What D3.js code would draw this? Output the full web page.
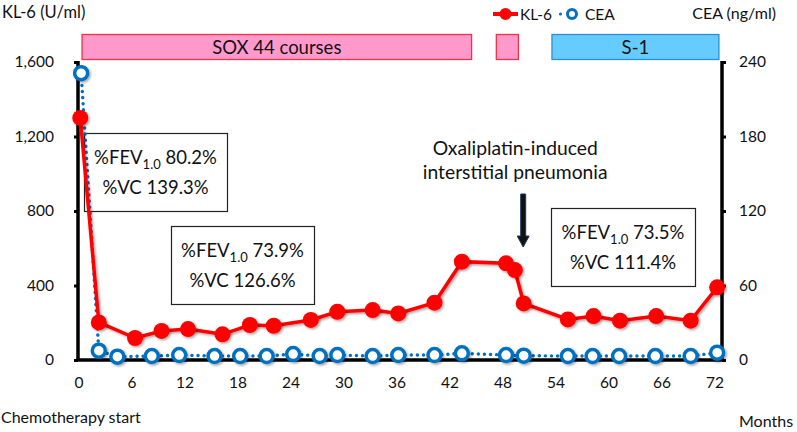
<!DOCTYPE html>
<html>
<head>
<meta charset="utf-8">
<script src="https://cdn.jsdelivr.net/npm/d3@7"></script>
<style>
  html, body { margin: 0; padding: 0; background: #fff; }
  svg { display: block; font-family: Lato, "Open Sans", sans-serif; }
</style>
</head>
<body>
<svg id="chart" width="797" height="432"></svg>
<script>
// ---- Data ----
const kl6Months = [0.2, 2.3, 6.4, 9.4, 12.4, 16.3, 19.4, 22.1, 26.3, 29.3, 33.3, 36.2, 40.3, 43.4, 48.4, 49.4, 50.4, 55.4, 58.3, 61.3, 65.4, 69.3, 72.3];
const kl6Values = [1300, 202, 118, 156, 166, 138, 188, 184, 215, 259, 268, 250, 308, 528, 519, 483, 304, 218, 236, 211, 236, 211, 390];
const ceaMonths = [0.3, 2.3, 4.4, 8.3, 11.4, 15.4, 18.3, 21.3, 24.3, 27.3, 29.3, 33.3, 36.2, 40.3, 43.4, 48.4, 50.4, 55.4, 58.2, 61.2, 65.3, 69.3, 72.3];
const ceaValues = [231, 7.5, 2.7, 3.2, 4.0, 3.2, 3.2, 3.2, 4.8, 3.2, 4.0, 3.2, 4.0, 4.0, 5.4, 4.0, 3.5, 3.2, 3.2, 3.2, 3.2, 3.2, 5.9];
const xTicks = [0, 6, 12, 18, 24, 30, 36, 42, 48, 54, 60, 66, 72];
const leftTicks = [0, 400, 800, 1200, 1600];
const rightTicks = [0, 60, 120, 180, 240];
const periodLabels = ["SOX 44 courses", "", "S-1"];
const periodStart = [0.4, 47.3, 53.6];
const periodEnd = [44.5, 49.8, 72.5];
const periodKind = ["sox", "sox", "s1"];
const pftLine1Vals = ["80.2%", "73.9%", "73.5%"];
const pftLine2Vals = ["%VC 139.3%", "%VC 126.6%", "%VC 111.4%"];
const annotationLines = ["Oxaliplatin-induced", "interstitial pneumonia"];
const annotationMonth = 50.4;

// ---- Setup ----
const svg = d3.select("#chart");
const x = d3.scaleLinear().domain([0, 72]).range([78.5, 714.5]);
const yL = d3.scaleLinear().domain([0, 1600]).range([360, 62]);
const yR = d3.scaleLinear().domain([0, 240]).range([360, 62]);
const xRightEdge = 722;

const defs = svg.append("defs");
const f = defs.append("filter").attr("id", "sh").attr("x", "-50%").attr("y", "-50%").attr("width", "200%").attr("height", "200%");
f.append("feDropShadow").attr("dx", 1.5).attr("dy", 1.5).attr("stdDeviation", 1.2).attr("flood-color", "#000").attr("flood-opacity", 0.35);

// ---- Period bars ----
const pcol = { sox: { fill: "#FF99CC", stroke: "#EE3344" }, s1: { fill: "#66CCFF", stroke: "#2E8FD0" } };
periodStart.forEach((s, i) => {
  const x0 = x(s), x1 = x(periodEnd[i]);
  svg.append("rect").attr("x", x0).attr("y", 34.5).attr("width", x1 - x0).attr("height", 25)
    .attr("fill", pcol[periodKind[i]].fill).attr("stroke", pcol[periodKind[i]].stroke).attr("stroke-width", 1.3);
  if (periodLabels[i]) {
    svg.append("text").attr("x", (x0 + x1) / 2).attr("y", 47).attr("text-anchor", "middle")
      .attr("dominant-baseline", "central").attr("font-size", 18.5).attr("fill", "#111").text(periodLabels[i]);
  }
});

// ---- Axes ----
const gL = svg.append("g").attr("transform", "translate(78,0)")
  .call(d3.axisLeft(yL).tickValues(leftTicks).tickSize(4).tickPadding(20).tickFormat(d3.format(",")));
const gR = svg.append("g").attr("transform", `translate(${xRightEdge},0)`)
  .call(d3.axisRight(yR).tickValues(rightTicks).tickSize(4).tickPadding(13));
const gB = svg.append("g").attr("transform", "translate(0,360)")
  .call(d3.axisBottom(x).tickValues(xTicks).tickSize(0).tickPadding(17));
[gL, gR, gB].forEach(g => {
  g.select(".domain").remove();
  g.selectAll("text").attr("font-size", 15.5).attr("fill", "#111").attr("font-family", "Lato, sans-serif");
  g.selectAll(".tick line").attr("stroke", "#000").attr("stroke-width", 3);
});
// thick axis lines
svg.append("line").attr("x1", 78).attr("x2", 78).attr("y1", 61).attr("y2", 361).attr("stroke", "#000").attr("stroke-width", 3.5);
svg.append("line").attr("x1", xRightEdge).attr("x2", xRightEdge).attr("y1", 61).attr("y2", 361).attr("stroke", "#000").attr("stroke-width", 3.5);
svg.append("line").attr("x1", 76.5).attr("x2", xRightEdge + 1.5).attr("y1", 360).attr("y2", 360).attr("stroke", "#000").attr("stroke-width", 3.5);

// axis titles
svg.append("text").attr("x", 2).attr("y", 18).attr("font-size", 16.5).attr("fill", "#111").text("KL-6 (U/ml)");
svg.append("text").attr("x", 776).attr("y", 19).attr("text-anchor", "end").attr("font-size", 16).attr("fill", "#111").text("CEA (ng/ml)");
svg.append("text").attr("x", 1).attr("y", 423).attr("font-size", 16).attr("fill", "#111").text("Chemotherapy start");
svg.append("text").attr("x", 739).attr("y", 427).attr("font-size", 16).attr("fill", "#111").text("Months");

// ---- Text boxes ----
const boxes = [
  { x0: 84, y0: 133, x1: 227, y1: 211 },
  { x0: 171, y0: 226, x1: 314, y1: 304 },
  { x0: 551, y0: 208, x1: 695, y1: 286 }
];
boxes.forEach((b, i) => {
  svg.append("rect").attr("x", b.x0 + 0.5).attr("y", b.y0 + 0.5).attr("width", b.x1 - b.x0).attr("height", b.y1 - b.y0)
    .attr("fill", "#fff").attr("stroke", "#222").attr("stroke-width", 1.2);
  const cx = (b.x0 + b.x1) / 2;
  const t1 = svg.append("text").attr("x", cx).attr("y", b.y0 + 31).attr("text-anchor", "middle").attr("font-size", 18.5).attr("fill", "#111");
  t1.append("tspan").text("%FEV");
  t1.append("tspan").attr("font-size", 13).attr("dy", 5).text("1.0");
  t1.append("tspan").attr("dy", -5).text(" " + pftLine1Vals[i]);
  svg.append("text").attr("x", cx).attr("y", b.y0 + 61).attr("text-anchor", "middle").attr("font-size", 18.5).attr("fill", "#111").text(pftLine2Vals[i]);
});

// ---- Annotation ----
const ax = x(annotationMonth) - 0.5;
annotationLines.forEach((t, i) => {
  svg.append("text").attr("x", ax - 8).attr("y", 155 + i * 23.5).attr("text-anchor", "middle").attr("font-size", 19.3).attr("fill", "#111").text(t);
});
svg.append("path")
  .attr("d", `M${ax - 2.5},194 L${ax + 2.5},194 L${ax + 2.5},236 L${ax + 6},236 L${ax},247 L${ax - 6},236 L${ax - 2.5},236 Z`)
  .attr("fill", "#111").attr("stroke", "#1F3864").attr("stroke-width", 1);

// ---- Series ----
const kl6 = kl6Months.map((m, i) => [m, kl6Values[i]]);
const cea = ceaMonths.map((m, i) => [m, ceaValues[i]]);

svg.append("path").datum(cea)
  .attr("d", d3.line().x(d => x(d[0])).y(d => yR(d[1])))
  .attr("fill", "none").attr("stroke", "#0070C0").attr("stroke-width", 3.4)
  .attr("stroke-dasharray", "0.1 6").attr("stroke-linecap", "round");

svg.append("path").datum(kl6)
  .attr("d", d3.line().x(d => x(d[0])).y(d => yL(d[1])))
  .attr("fill", "none").attr("stroke", "#FF0000").attr("stroke-width", 3.5).attr("filter", "url(#sh)");
svg.append("g").selectAll("circle").data(kl6).join("circle")
  .attr("cx", d => x(d[0])).attr("cy", d => yL(d[1])).attr("r", 8)
  .attr("fill", "#FF0000").attr("filter", "url(#sh)");

svg.append("g").selectAll("circle").data(cea).join("circle")
  .attr("cx", d => x(d[0])).attr("cy", d => yR(d[1])).attr("r", 6.5)
  .attr("fill", "#fff").attr("stroke", "#0070C0").attr("stroke-width", 3.5).attr("filter", "url(#sh)");

// ---- Legend ----
const lg = svg.append("g");
lg.append("line").attr("x1", 493).attr("x2", 518).attr("y1", 14).attr("y2", 14).attr("stroke", "#FF0000").attr("stroke-width", 4);
lg.append("circle").attr("cx", 505.5).attr("cy", 14).attr("r", 6).attr("fill", "#FF0000");
lg.append("text").attr("x", 520).attr("y", 19.5).attr("font-size", 15.5).attr("fill", "#111").text("KL-6");
lg.append("circle").attr("cx", 560.5).attr("cy", 14).attr("r", 1.6).attr("fill", "#0070C0");
lg.append("circle").attr("cx", 572).attr("cy", 14).attr("r", 4.5).attr("fill", "#fff").attr("stroke", "#0070C0").attr("stroke-width", 3);
lg.append("text").attr("x", 585).attr("y", 19.5).attr("font-size", 15.5).attr("fill", "#111").text("CEA");
</script>
</body>
</html>
